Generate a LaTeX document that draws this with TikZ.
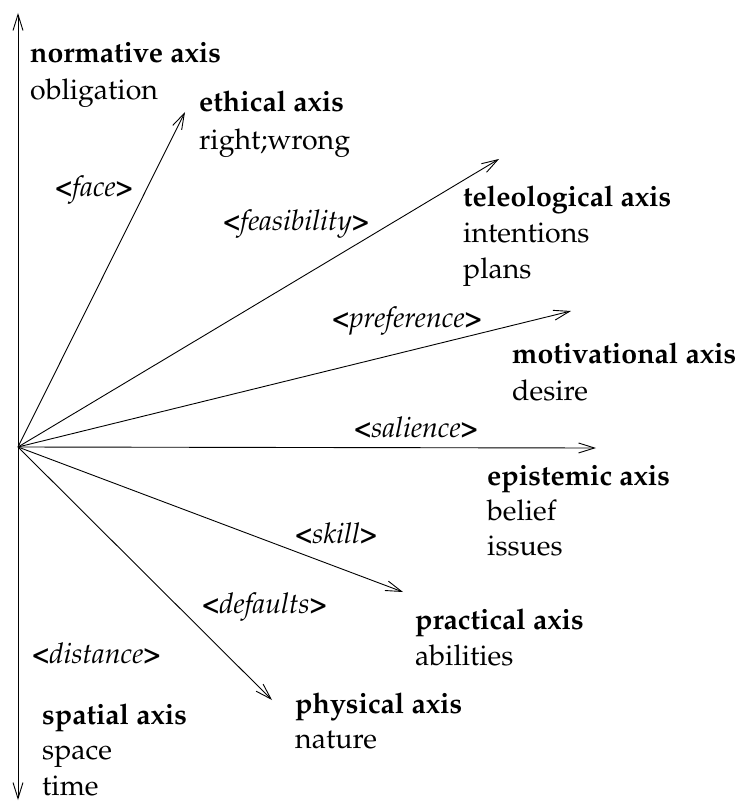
\documentclass[tikz,border=0pt]{standalone}
\usepackage[T1]{fontenc}
\usepackage{mathpazo}
\usetikzlibrary{arrows.meta}
\tikzset{
  axisline/.style={line width=0.9pt, -{Straight Barb[length=16pt,width=10pt,line width=0.9pt]}},
  bothline/.style={line width=0.9pt, {Straight Barb[length=16pt,width=10pt,line width=0.9pt]}-{Straight Barb[length=16pt,width=10pt,line width=0.9pt]}},
  axisname/.style={anchor=base west, inner sep=0pt, font=\fontsize{28.5}{36}\selectfont\bfseries},
  axisitem/.style={anchor=base west, inner sep=0pt, font=\fontsize{28.5}{36}\selectfont},
  dimlabel/.style={anchor=base west, inner sep=0pt, font=\fontsize{28.5}{36}\selectfont},
}
% angle-bracketed dimension name
\newcommand{\dimname}[1]{\textbf{<}\textit{#1}\textbf{>}}
\begin{document}
\begin{tikzpicture}[x=1pt, y=-1pt]
  \useasboundingbox (0,0) rectangle (738,802);

  % common origin and arrow ends
  \coordinate (O) at (18,447);
  \coordinate (top) at (18,13);
  \coordinate (bottom) at (18,800);
  \coordinate (eth) at (185,112);
  \coordinate (tel) at (499,159);
  \coordinate (mot) at (571,311);
  \coordinate (epi) at (596,448);
  \coordinate (pra) at (403,592);
  \coordinate (phy) at (272,700);

  % axes
  \draw[bothline] (top) -- (bottom);
  \draw[axisline] (O) -- (eth);
  \draw[axisline] (O) -- (tel);
  \draw[axisline] (O) -- (mot);
  \draw[axisline] (O) -- (epi);
  \draw[axisline] (O) -- (pra);
  \draw[axisline] (O) -- (phy);

  % axis names and contents
  \node[axisname] (normN) at (30,63) {normative axis};
  \node[axisitem] (normA) at (30,100) {obligation};

  \node[axisname] (ethN) at (199,112) {ethical axis};
  \node[axisitem] (ethA) at (199,150) {right;wrong};

  \node[axisname] (telN) at (463,207) {teleological axis};
  \node[axisitem] (telA) at (463,243) {intentions};
  \node[axisitem] (telB) at (463,278) {plans};

  \node[axisname] (motN) at (512,363) {motivational axis};
  \node[axisitem] (motA) at (512,400) {desire};

  \node[axisname] (epiN) at (487,485) {epistemic axis};
  \node[axisitem] (epiA) at (487,520) {belief};
  \node[axisitem] (epiB) at (487,555) {issues};

  \node[axisname] (praN) at (415,629) {practical axis};
  \node[axisitem] (praA) at (415,665) {abilities};

  \node[axisname] (phyN) at (295,713) {physical axis};
  \node[axisitem] (phyA) at (295,748) {nature};

  \node[axisname] (spaN) at (42,724) {spatial axis};
  \node[axisitem] (spaA) at (42,759) {space};
  \node[axisitem] (spaB) at (42,795) {time};

  % dimension labels
  \node[dimlabel] (face) at (55,197) {\dimname{face}};
  \node[dimlabel] (feas) at (223,230) {\dimname{feasibility}};
  \node[dimlabel] (pref) at (332,327) {\dimname{preference}};
  \node[dimlabel] (sal) at (354,437) {\dimname{salience}};
  \node[dimlabel] (skill) at (295,543) {\dimname{skill}};
  \node[dimlabel] (def) at (202,613) {\dimname{defaults}};
  \node[dimlabel] (dist) at (32,663) {\dimname{distance}};
\end{tikzpicture}
\end{document}
